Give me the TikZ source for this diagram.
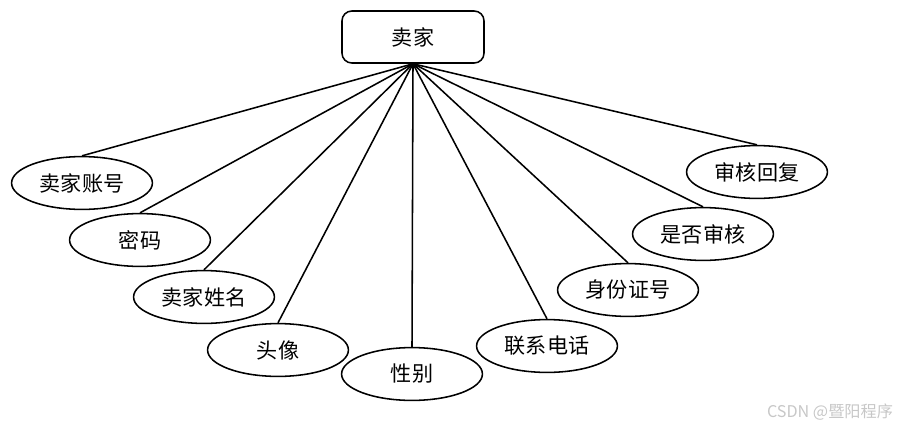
\documentclass[tikz,border=0pt]{standalone}
\usepackage{fontspec}
\newfontfamily\cjk{Noto Sans CJK SC}
\usetikzlibrary{shapes.geometric}

\begin{document}
\begin{tikzpicture}[x=0.025cm,y=-0.025cm]
\tikzset{
  entitybox/.style={draw,line width=1.1pt,rounded corners=7pt,minimum width=3.55cm,minimum height=1.3cm,inner sep=1pt,font=\cjk\fontsize{15}{18}\selectfont},
  attrnode/.style={ellipse,draw,line width=1.1pt,minimum width=3.52cm,minimum height=1.32cm,inner sep=1pt,font=\cjk\fontsize{15}{18}\selectfont},
  link/.style={line width=1.1pt}
}
\useasboundingbox (0,0) rectangle (903,429);
\node[entitybox] (n_seller) at (413,37) {卖家};
\coordinate (c_root) at (n_seller.south);
\node[attrnode] (a_account) at (82,183) {卖家账号};
\node[attrnode] (a_pwd) at (140,240) {密码};
\node[attrnode] (a_name) at (204,297) {卖家姓名};
\node[attrnode] (a_avatar) at (278,350) {头像};
\node[attrnode] (a_gender) at (412,374) {性别};
\node[attrnode] (a_phone) at (547,346) {联系电话};
\node[attrnode] (a_idno) at (628,290) {身份证号};
\node[attrnode] (a_audit) at (703,234) {是否审核};
\node[attrnode] (a_reply) at (757,172) {审核回复};
\draw[link] (c_root) -- (a_account.north);
\draw[link] (c_root) -- (a_pwd.north);
\draw[link] (c_root) -- (a_name.north);
\draw[link] (c_root) -- (a_avatar.north);
\draw[link] (c_root) -- (a_gender.north);
\draw[link] (c_root) -- (a_phone.north);
\draw[link] (c_root) -- (a_idno.north);
\draw[link] (c_root) -- (a_audit.north);
\draw[link] (c_root) -- (a_reply.north);
\node[text=black!22,font=\cjk\fontsize{11.5}{13}\selectfont] (wm) at (830,412) {CSDN @暨阳程序};
\end{tikzpicture}
\end{document}
